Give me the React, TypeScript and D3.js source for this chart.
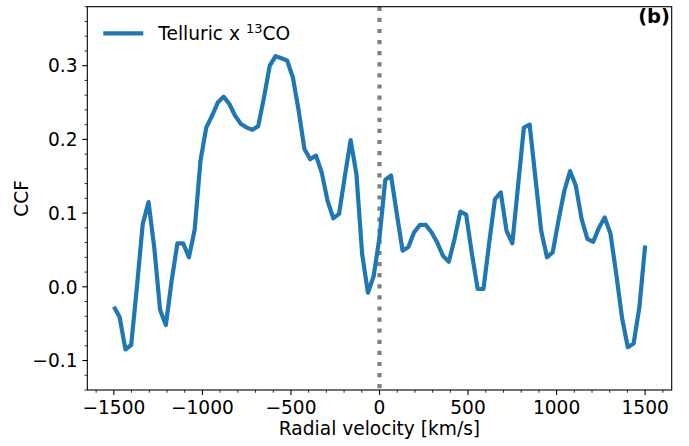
import React from 'react';
import * as d3 from 'd3';

const WIDTH = 689;
const HEIGHT = 446;
const MARGIN = { top: 6.7, right: 17.3, bottom: 56, left: 87.3 };

// velocity grid [km/s]
const velocity = [
  -1500, -1467.4, -1434.8, -1402.2, -1369.6, -1337.0, -1304.3, -1271.7, -1239.1, -1206.5,
  -1173.9, -1141.3, -1108.7, -1076.1, -1043.5, -1010.9, -978.3, -945.7, -913.0, -880.4,
  -847.8, -815.2, -782.6, -750.0, -717.4, -684.8, -652.2, -619.6, -587.0, -554.3,
  -521.7, -489.1, -456.5, -423.9, -391.3, -358.7, -326.1, -293.5, -260.9, -228.3,
  -195.7, -163.0, -130.4, -97.8, -65.2, -32.6, 0,
  32.6, 65.2, 97.8, 130.4, 163.0, 195.7, 228.3, 260.9, 293.5, 326.1,
  358.7, 391.3, 423.9, 456.5, 489.1, 521.7, 554.3, 587.0, 619.6, 652.2,
  684.8, 717.4, 750.0, 782.6, 815.2, 847.8, 880.4, 913.0, 945.7, 978.3,
  1010.9, 1043.5, 1076.1, 1108.7, 1141.3, 1173.9, 1206.5, 1239.1, 1271.7, 1304.3,
  1337.0, 1369.6, 1402.2, 1434.8, 1467.4, 1500,
];

// Telluric x 13CO cross-correlation
const ccf = [
  -0.027, -0.041, -0.085, -0.079, 0.0, 0.085, 0.115, 0.053, -0.031, -0.052,
  0.008, 0.059, 0.059, 0.04, 0.078, 0.171, 0.216, 0.232, 0.25, 0.258,
  0.248, 0.232, 0.221, 0.216, 0.213, 0.218, 0.257, 0.3, 0.313, 0.31,
  0.307, 0.284, 0.239, 0.187, 0.173, 0.178, 0.155, 0.117, 0.093, 0.099,
  0.15, 0.199, 0.153, 0.044, -0.008, 0.015, 0.067,
  0.145, 0.151, 0.099, 0.049, 0.054, 0.074, 0.084, 0.084, 0.074, 0.06,
  0.042, 0.034, 0.065, 0.102, 0.098, 0.045, -0.003, -0.003, 0.06, 0.119,
  0.128, 0.076, 0.059, 0.137, 0.216, 0.22, 0.148, 0.076, 0.04, 0.047,
  0.09, 0.13, 0.157, 0.137, 0.092, 0.065, 0.061, 0.08, 0.094, 0.072,
  0.017, -0.042, -0.082, -0.077, -0.028, 0.056,
];

const xTicks = [-1500, -1000, -500, 0, 500, 1000, 1500];
const yTicks = [-0.1, 0.0, 0.1, 0.2, 0.3];
const xMinor = d3.range(-1600, 1601, 100).filter((v) => v % 500 !== 0);
const yMinor = d3.range(-14, 39, 2).map((v) => v / 100).filter((v) => Math.round(v * 100) % 10 !== 0);

const FONT = 'DejaVu Sans, sans-serif';
const BLUE = '#1f77b4';
const FS = 18.6;

const fmtX = (v) => (v < 0 ? '\u2212' + Math.abs(v) : String(v));
const fmtY = (v) => (v < 0 ? '\u2212' + Math.abs(v).toFixed(1) : v.toFixed(1));

const App = () => {
  const x0 = MARGIN.left;
  const x1 = WIDTH - MARGIN.right;
  const y0 = HEIGHT - MARGIN.bottom;
  const y1 = MARGIN.top;

  const x = d3.scaleLinear().domain([-1650, 1650]).range([x0, x1]);
  const y = d3.scaleLinear().domain([-0.14, 0.38]).range([y0, y1]);

  const line = d3
    .line()
    .x((d) => x(d[0]))
    .y((d) => y(d[1]));
  const pts = velocity.map((v, i) => [v, ccf[i]]);

  return (
    <svg
      width={WIDTH}
      height={HEIGHT}
      style={{ position: 'absolute', left: 0, top: 0, background: '#fff' }}
      fontFamily={FONT}
    >
      <defs>
        <clipPath id="plot">
          <rect x={x0} y={y1} width={x1 - x0} height={y0 - y1} />
        </clipPath>
      </defs>

      {/* zero velocity marker */}
      <line
        x1={x(0)}
        x2={x(0)}
        y1={y1}
        y2={y0}
        stroke="#808080"
        strokeWidth={4.2}
        strokeDasharray="4.2 6.9"
      />

      <path
        d={line(pts)}
        fill="none"
        stroke={BLUE}
        strokeWidth={4.2}
        strokeLinejoin="round"
        clipPath="url(#plot)"
      />

      {/* frame */}
      <rect x={x0} y={y1} width={x1 - x0} height={y0 - y1} fill="none" stroke="#000" strokeWidth={1.1} />

      {/* x ticks */}
      {xTicks.map((t) => (
        <g key={'xt' + t}>
          <line x1={x(t)} x2={x(t)} y1={y0} y2={y0 + 4.9} stroke="#000" strokeWidth={1.1} />
          <text x={x(t)} y={y0 + 24} textAnchor="middle" fontSize={FS} fill="#000">
            {fmtX(t)}
          </text>
        </g>
      ))}
      {xMinor.map((t) => (
        <line key={'xm' + t} x1={x(t)} x2={x(t)} y1={y0} y2={y0 + 2.8} stroke="#000" strokeWidth={0.8} />
      ))}

      {/* y ticks */}
      {yTicks.map((t) => (
        <g key={'yt' + t}>
          <line x1={x0 - 4.9} x2={x0} y1={y(t)} y2={y(t)} stroke="#000" strokeWidth={1.1} />
          <text x={x0 - 9.8} y={y(t) + 6.7} textAnchor="end" fontSize={FS} fill="#000">
            {fmtY(t)}
          </text>
        </g>
      ))}
      {yMinor.map((t) => (
        <line key={'ym' + t} x1={x0 - 2.8} x2={x0} y1={y(t)} y2={y(t)} stroke="#000" strokeWidth={0.8} />
      ))}

      {/* axis labels */}
      <text x={(x0 + x1) / 2} y={435} textAnchor="middle" fontSize={FS} fill="#000">
        Radial velocity [km/s]
      </text>
      <text
        transform={`translate(28,${(y0 + y1) / 2}) rotate(-90)`}
        textAnchor="middle"
        fontSize={FS}
        fill="#000"
      >
        CCF
      </text>

      {/* legend */}
      <line x1={103.3} x2={143.3} y1={33.3} y2={33.3} stroke={BLUE} strokeWidth={4.2} />
      <text x={158.3} y={39.8} fontSize={FS} fill="#000">
        Telluric x{' '}
        <tspan fontSize={13} dy={-7}>13</tspan>
        <tspan dy={7}>CO</tspan>
      </text>

      {/* panel tag */}
      <text x={670} y={23} textAnchor="end" fontSize={19.5} fontWeight="bold" fill="#000">
        (b)
      </text>
    </svg>
  );
};

export default App;
